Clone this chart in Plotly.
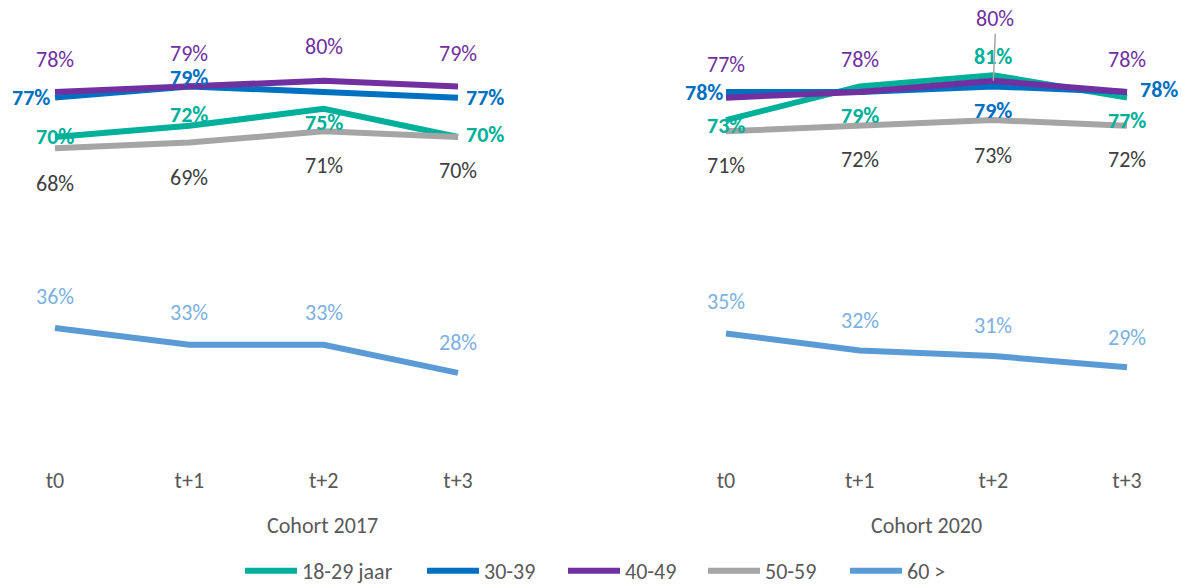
import plotly.graph_objects as go

# ---------------- data ----------------
periods = ["t0", "t+1", "t+2", "t+3"]
series_names = ["18-29 jaar", "30-39", "40-49", "50-59", "60 >"]

cohort_2017_1829 = [70, 72, 75, 70]
cohort_2017_3039 = [77, 79, 78, 77]
cohort_2017_4049 = [78, 79, 80, 79]
cohort_2017_5059 = [68, 69, 71, 70]
cohort_2017_60 = [36, 33, 33, 28]

cohort_2020_1829 = [73, 79, 81, 77]
cohort_2020_3039 = [78, 78, 79, 78]
cohort_2020_4049 = [77, 78, 80, 78]
cohort_2020_5059 = [71, 72, 73, 72]
cohort_2020_60 = [35, 32, 31, 29]

panel_titles = ["Cohort 2017", "Cohort 2020"]

# ---------------- styles ----------------
line_colors = ["#00B09A", "#0070C0", "#7030A0", "#A5A5A5", "#5B9BD5"]
label_colors = ["#00B09A", "#0070C0", "#7030A0", "#404040", "#7DB1DF"]
label_bold = [True, True, False, False, False]
FONT = "Carlito, Calibri, Lato, sans-serif"
FS = 22
W, H = 1182, 585

# the page keeps its default 8px top margin; convert screen px -> figure px
TOP_OFF = 8


def fig_y(target_px):
    return target_px - TOP_OFF


def paper_y(target_px):
    return 1 - fig_y(target_px) / H


# legend entry left edges (px) for the five legend boxes
legend_left_px = [240, 422, 563, 703, 845]

# label placement per panel / series / point: (xanchor, xshift, yshift) or None = hidden
place_2017 = [
    [("center", 0, 0), ("center", 0, 11), ("center", 0, -14), ("left", 6, 2)],
    [("right", -3, 0), ("center", 0, 9), None, ("left", 6, 0)],
    [("center", 0, 33), ("center", 0, 33), ("center", 0, 34), ("center", 0, 33)],
    [("center", 0, -35), ("center", 0, -35), ("center", 0, -34), ("center", 0, -34)],
    [("center", 0, 31), ("center", 0, 32), ("center", 0, 32), ("center", 0, 30)],
]
place_2020 = [
    [("center", 0, -5), ("center", 0, -29), ("center", 0, 19), ("center", 0, -23)],
    [("right", -1, 0), None, ("center", 0, -24), ("left", 11, 3)],
    [("center", 0, 33), ("center", 0, 33), "leader", ("center", 0, 33)],
    [("center", 0, -34), ("center", 0, -34), ("center", 0, -35), ("center", 0, -34)],
    [("center", 0, 32), ("center", 0, 30), ("center", 0, 31), ("center", 0, 30)],
]

panels = [
    ("x", "y", [cohort_2017_1829, cohort_2017_3039, cohort_2017_4049, cohort_2017_5059, cohort_2017_60], place_2017),
    ("x2", "y2", [cohort_2020_1829, cohort_2020_3039, cohort_2020_4049, cohort_2020_5059, cohort_2020_60], place_2020),
]

fig = go.Figure()
annotations = []
legend_ids = ["legend", "legend2", "legend3", "legend4", "legend5"]

for p_i, (xa, ya, data, places) in enumerate(panels):
    for s_i, vals in enumerate(data):
        fig.add_trace(go.Scatter(
            x=periods, y=vals, mode="lines", name=series_names[s_i],
            line=dict(color=line_colors[s_i], width=6),
            xaxis=xa, yaxis=ya, showlegend=(p_i == 0), legendgroup=series_names[s_i],
            legend=legend_ids[s_i], hoverinfo="skip",
        ))
        for k, v in enumerate(vals):
            pl = places[s_i][k]
            if pl is None:
                continue
            txt = f"<b>{v}%</b>" if label_bold[s_i] else f"{v}%"
            font = dict(family=FONT, size=FS, color=label_colors[s_i])
            if pl == "leader":
                annotations.append(dict(
                    x=periods[k], y=v, xref=xa, yref=ya, text=txt, font=font,
                    showarrow=True, arrowhead=0, arrowwidth=1.5, arrowcolor="#A5A5A5",
                    ax=2, ay=-47, standoff=0, yanchor="bottom",
                ))
                continue
            xanchor, xshift, yshift = pl
            annotations.append(dict(
                x=periods[k], y=v, xref=xa, yref=ya, text=txt, font=font,
                showarrow=False, xanchor=xanchor, yanchor="middle",
                xshift=xshift, yshift=yshift,
            ))

# cohort titles
for t, xp in zip(panel_titles, [322 / W, 926 / W]):
    annotations.append(dict(
        x=xp, y=paper_y(525), xref="paper", yref="paper", text=t,
        showarrow=False, xanchor="center", yanchor="middle",
        font=dict(family=FONT, size=FS, color="#595959"),
    ))

yr = [11.6, 92.6]
ydom = [paper_y(465), paper_y(10)]
axis_common = dict(showgrid=False, zeroline=False, showline=False, ticks="",
                   tickfont=dict(family=FONT, size=FS, color="#595959"),
                   range=[-0.3, 3.3], type="category", fixedrange=True)
yaxis_common = dict(showgrid=False, zeroline=False, showline=False, showticklabels=False,
                    range=yr, domain=ydom, fixedrange=True)

legend_style = dict(orientation="h", xanchor="left", y=paper_y(571), yanchor="middle",
                    font=dict(family=FONT, size=FS, color="#595959"),
                    itemwidth=52, bgcolor="rgba(0,0,0,0)", borderwidth=0)
legends = {lid: dict(x=lx / W, **legend_style) for lid, lx in zip(legend_ids, legend_left_px)}

fig.update_layout(
    width=W, height=H, autosize=False,
    margin=dict(l=0, r=0, t=0, b=0, autoexpand=False),
    paper_bgcolor="white", plot_bgcolor="white",
    xaxis=dict(domain=[14.7 / W, 498.3 / W], anchor="y", **axis_common),
    xaxis2=dict(domain=[685.9 / W, 1167.1 / W], anchor="y2", **axis_common),
    yaxis=dict(anchor="x", **yaxis_common),
    yaxis2=dict(anchor="x2", **yaxis_common),
    annotations=annotations,
    showlegend=True,
    font=dict(family=FONT),
    **legends,
)

fig.write_html(
    "out.html",
    config={"displayModeBar": False},
    post_script="document.body.style.marginLeft='0';document.body.style.marginRight='0';",
)
